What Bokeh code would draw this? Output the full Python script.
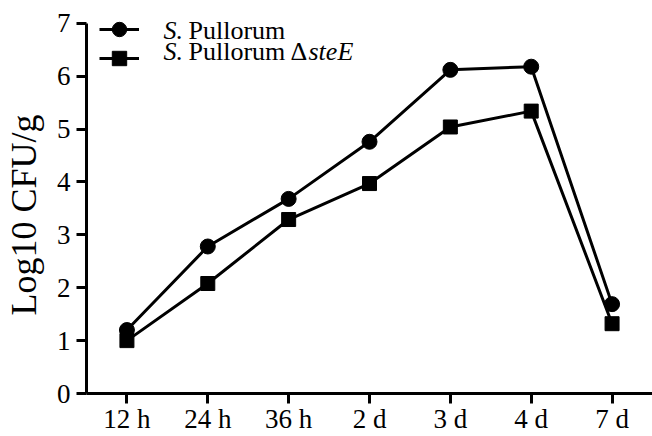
from bokeh.plotting import figure
from bokeh.models import Range1d, FixedTicker, Legend, LegendItem, Label
from bokeh.embed import file_html
from bokeh.resources import INLINE

categories = ["12 h", "24 h", "36 h", "2 d", "3 d", "4 d", "7 d"]
wild_type = [1.2, 2.78, 3.68, 4.76, 6.12, 6.18, 1.69]
stee_mutant = [1.0, 2.08, 3.29, 3.97, 5.04, 5.34, 1.32]
y_ticks = [0, 1, 2, 3, 4, 5, 6, 7]

FONT = "Liberation Serif"
xs = list(range(len(categories)))

# frame spans page y 0..396; the value 7 sits at y≈23, so the range continues above 7
y_top = 7 * 396 / 373

p = figure(width=652, height=436, output_backend="svg", toolbar_location=None,
           x_range=Range1d(-0.5, len(categories) - 0.5), y_range=Range1d(0, y_top),
           min_border_left=85, min_border_right=0, min_border_top=0, min_border_bottom=40)
p.outline_line_color = None
p.grid.visible = False
p.background_fill_color = "white"
p.border_fill_color = "white"

l1 = p.line(xs, wild_type, line_width=3, color="black")
s1 = p.scatter(xs, wild_type, marker="circle", size=15, color="black")
l2 = p.line(xs, stee_mutant, line_width=3, color="black")
s2 = p.scatter(xs, stee_mutant, marker="square", size=14, color="black")

for ax in (p.xaxis[0], p.yaxis[0]):
    ax.axis_line_width = 3
    ax.major_tick_line_width = 3
    ax.major_tick_out = 10
    ax.major_tick_in = 0
    ax.minor_tick_line_color = None
    ax.major_label_text_font = FONT
    ax.major_label_text_font_size = "27px"
    ax.major_label_text_color = "black"
    ax.axis_line_color = "black"
    ax.major_tick_line_color = "black"

p.xaxis.ticker = FixedTicker(ticks=xs)
p.xaxis.major_label_overrides = {i: c for i, c in enumerate(categories)}
p.xaxis.major_label_standoff = 0
p.yaxis.ticker = FixedTicker(ticks=y_ticks)
p.yaxis.bounds = (0, 7)
p.yaxis.major_label_standoff = 6
# trailing no-break spaces move the centred title down to the middle of the 0..7 span
p.yaxis.axis_label = "Log10 CFU/g" + "\u00a0" * 4
p.yaxis.axis_label_text_font = FONT
p.yaxis.axis_label_text_font_size = "36px"
p.yaxis.axis_label_text_font_style = "normal"
p.yaxis.axis_label_text_color = "black"
p.yaxis.axis_label_standoff = 10

leg_kw = dict(glyph_width=40, glyph_height=36, spacing=0, padding=0, margin=0,
              border_line_alpha=0, background_fill_alpha=0, label_text_font_size="1px")
p.add_layout(Legend(items=[LegendItem(label=" ", renderers=[l1, s1])],
                    location=(13, 346), **leg_kw))
p.add_layout(Legend(items=[LegendItem(label=" ", renderers=[l2, s2])],
                    location=(13, 317), **leg_kw))

lab_kw = dict(x_units="screen", y_units="screen", text_font=FONT,
              text_font_size="26px", text_baseline="middle", text_color="black")
row1_y, row2_y = 363, 342
p.add_layout(Label(x=77, y=row1_y, text="S.", text_font_style="italic", **lab_kw))
p.add_layout(Label(x=102, y=row1_y, text="Pullorum", **lab_kw))
p.add_layout(Label(x=77, y=row2_y, text="S.", text_font_style="italic", **lab_kw))
p.add_layout(Label(x=102, y=row2_y, text="Pullorum", **lab_kw))
p.add_layout(Label(x=204, y=row2_y, text="\u0394", **lab_kw))
p.add_layout(Label(x=222, y=row2_y, text="steE", text_font_style="italic", **lab_kw))

open("out.html", "w").write(file_html(p, INLINE))
